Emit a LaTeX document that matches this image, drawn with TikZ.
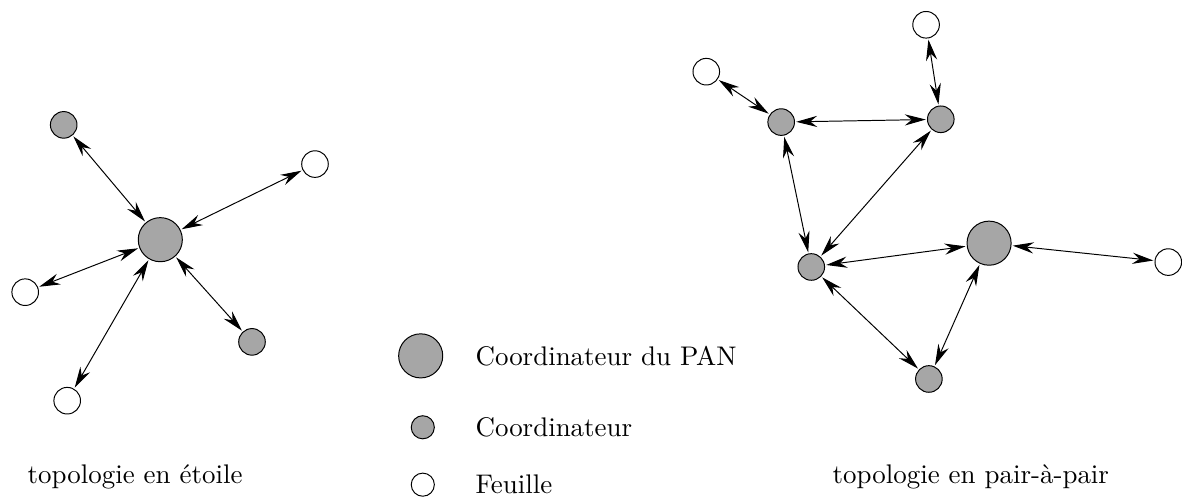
\documentclass[tikz,border=0pt]{standalone}
\usepackage{tikz}
\usetikzlibrary{positioning, arrows.meta}
\definecolor{nodegray}{RGB}{166,166,166}
\tikzset{%
  pan/.style      = {draw, circle, fill = nodegray, minimum size = 0.63cm, inner sep = 0pt},
  coord/.style    = {draw, circle, fill = nodegray, minimum size = 0.38cm, inner sep = 0pt},
  leaf/.style     = {draw, circle, fill = white, minimum size = 0.38cm, inner sep = 0pt},
  link/.style     = {{Stealth[length = 3mm, width = 1.6mm, inset = 1mm]}-{Stealth[length = 3mm, width = 1.6mm, inset = 1mm]},
    shorten > = 0.5pt, shorten < = 0.5pt}
}
\newcommand{\legtext}{\fontsize{10.95}{13.6}\selectfont}

\begin{document}
\begin{tikzpicture}[font = \legtext]
\useasboundingbox (0,0) rectangle (16.886,7.114);
%star nodes
\draw
	(2.29,3.69) node [pan] (sp) {}
	(0.91,5.33) node [coord] (sc1) {}
	(3.60,2.23) node [coord] (sc2) {}
	(4.50,4.77) node [leaf] (sf1) {}
	(0.36,2.94) node [leaf] (sf2) {}
	(0.96,1.39) node [leaf] (sf3) {};
%star lines
\draw[link] (sc1) -- (sp);
\draw[link] (sf1) -- (sp);
\draw[link] (sf2) -- (sp);
\draw[link] (sc2) -- (sp);
\draw[link] (sf3) -- (sp);
%mesh nodes
\draw
	(14.13,3.64) node [pan] (mp) {}
	(11.16,5.37) node [coord] (mc1) {}
	(13.44,5.41) node [coord] (mc2) {}
	(11.59,3.30) node [coord] (mc3) {}
	(13.27,1.70) node [coord] (mc4) {}
	(13.23,6.76) node [leaf] (mf1) {}
	(10.09,6.09) node [leaf] (mf2) {}
	(16.69,3.37) node [leaf] (mf3) {};
%mesh lines
\draw[link] (mf1) -- (mc2);
\draw[link] (mf2) -- (mc1);
\draw[link] (mc1) -- (mc2);
\draw[link] (mc1) -- (mc3);
\draw[link] (mc2) -- (mc3);
\draw[link] (mc3) -- (mp);
\draw[link] (mp) -- (mf3);
\draw[link] (mc3) -- (mc4);
\draw[link] (mp) -- (mc4);
%legend
\draw
	(6.01,2.03) node [pan] (lp) {}
	(6.04,1.01) node [coord, minimum size = 0.33cm] (lc) {}
	(6.04,0.19) node [leaf, minimum size = 0.33cm] (lf) {};
\node [anchor = west] (tp) at (6.67,2.03) {Coordinateur du PAN};
\node [anchor = west] (tc) at (6.67,1.01) {Coordinateur};
\node [anchor = west] (tf) at (6.67,0.19) {Feuille};
%labels
\node [anchor = base] (star) at (1.93,0.21) {topologie en étoile};
\node [anchor = base] (mesh) at (13.87,0.21) {topologie en pair-à-pair};
\end{tikzpicture}
\end{document}
